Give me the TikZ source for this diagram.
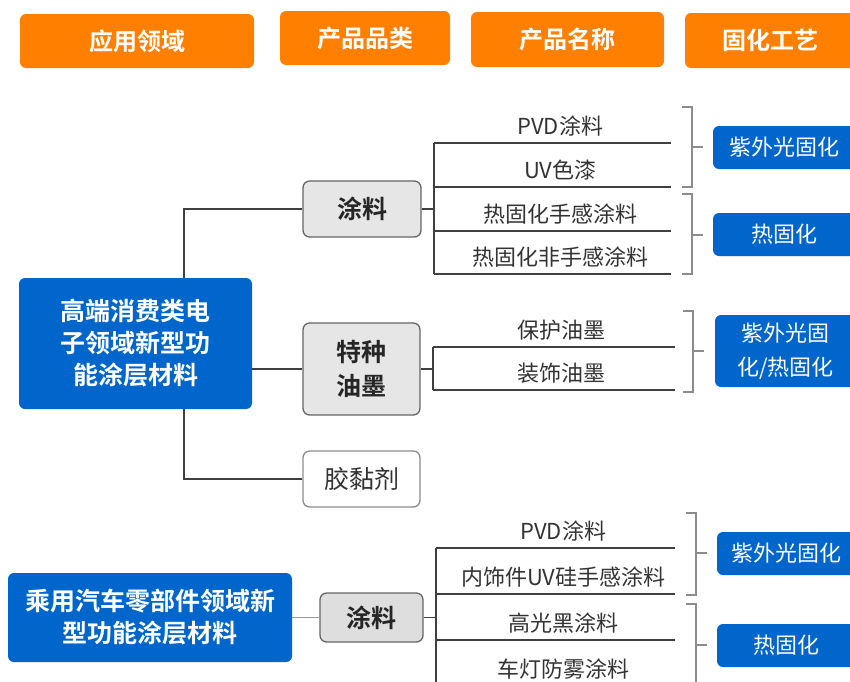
\documentclass[tikz,border=0pt]{standalone}
\usepackage{fontspec}
\setmainfont{Noto Sans CJK SC}[BoldFont={Noto Sans CJK SC Bold}]
\definecolor{orangeC}{HTML}{FF8000}
\definecolor{blueC}{HTML}{0066CC}
\definecolor{grayfill}{HTML}{E6E6E6}
\definecolor{grayfillb}{HTML}{DEDEDE}
\definecolor{linec}{HTML}{404040}
\definecolor{brkc}{HTML}{8C8C8C}
\definecolor{txtc}{HTML}{333333}
\begin{document}
\begin{tikzpicture}[x=0.75pt,y=-0.75pt,
  hdr/.style={fill=orangeC, rounded corners=4.5pt, text=white, inner sep=0pt,
    font=\bfseries\fontsize{18}{22}\selectfont},
  mainbox/.style={fill=blueC, rounded corners=4.5pt, text=white, inner sep=0pt, align=center,
    font=\bfseries\fontsize{18.75}{24}\selectfont},
  catbox/.style={fill=grayfill, draw=linec!80, line width=1pt, rounded corners=5pt, inner sep=0pt, align=center,
    text=black!85, font=\bfseries\fontsize{18.75}{25.5}\selectfont},
  plainbox/.style={fill=white, draw=black!45, line width=1pt, rounded corners=5pt, inner sep=0pt,
    text=txtc, font=\fontsize{18.75}{24}\selectfont},
  cure/.style={fill=blueC, rounded corners=4.5pt, text=white, inner sep=0pt, align=center,
    font=\fontsize{16.5}{25.5}\selectfont},
  item/.style={anchor=south west, inner sep=0pt, minimum height=24.75pt, text=txtc,
    font=\fontsize{16.5}{20}\selectfont, execute at begin node={\hspace*{12pt}}},
  conn/.style={draw=linec, line width=1.1pt},
  lconn/.style={draw=black!40, line width=1.1pt},
  uline/.style={draw=linec, line width=1pt},
  brk/.style={draw=brkc, line width=1.1pt}
]
\useasboundingbox (0,0) rectangle (850,682);

% headers
\node[hdr, minimum width=175.5pt, minimum height=40.5pt] (h1) at (137,41) {应用领域};
\node[hdr, minimum width=127.5pt, minimum height=40.5pt] (h2) at (365,38) {产品品类};
\node[hdr, minimum width=144.75pt, minimum height=41.25pt] (h3) at (567.5,39.5) {产品名称};
\node[hdr, minimum width=128.25pt, minimum height=41.25pt] (h4) at (770.5,40.5) {固化工艺};

% main nodes
\node[mainbox, minimum width=174.75pt, minimum height=98.25pt] (m1) at (135.5,343.5) {高端消费类电\\子领域新型功\\能涂层材料};
\node[mainbox, minimum width=213pt, minimum height=66.75pt] (m2) at (150,617.5) {乘用汽车零部件领域新\\型功能涂层材料};

% categories
\node[catbox, minimum width=88.5pt, minimum height=42pt] (t1) at (362,209) {涂料};
\node[catbox, minimum width=87.75pt, minimum height=69pt] (t2) at (361.5,369) {特种\\油墨};
\node[plainbox, minimum width=87.75pt, minimum height=42pt] (t3) at (361.5,479) {胶黏剂};
\node[catbox, fill=grayfillb, minimum width=77.25pt, minimum height=36.75pt] (t4) at (371.5,617.5) {涂料};

% trunk
\coordinate (tr) at (184,343.5);
\draw[conn] (t1.west) -| (tr |- m1.north);
\draw[conn] (t3.west) -| (tr |- m1.south);
\draw[conn] (t2.west) -- (t2.west -| m1.east);
\draw[lconn] (m2.east) -- (t4.west);

% group 1 items
\node[item, minimum width=177pt] (a1) at (434,143) {PVD涂料};
\node[item, minimum width=177pt] (a2) at (434,187) {UV色漆};
\node[item, minimum width=177pt] (a3) at (434,231) {热固化手感涂料};
\node[item, minimum width=177pt] (a4) at (434,274) {热固化非手感涂料};
\foreach \n in {a1,a2,a3,a4} \draw[uline] (\n.south west) -- (\n.south east);
\draw[uline] (a1.south west) -- (a4.south west);
\draw[conn] (t1.east) -- (t1.east -| a1.south west);

% group 2 items
\node[item, minimum width=180.75pt] (b1) at (433,347) {保护油墨};
\node[item, minimum width=180.75pt] (b2) at (433,390) {装饰油墨};
\foreach \n in {b1,b2} \draw[uline] (\n.south west) -- (\n.south east);
\draw[uline] (b1.south west) -- (b2.south west);
\draw[conn] (t2.east) -- (t2.east -| b1.south west);

% group 3 items
\node[item, minimum width=178.5pt] (d1) at (436,548) {PVD涂料};
\node[item, minimum width=178.5pt] (d2) at (436,594) {内饰件UV硅手感涂料};
\node[item, minimum width=178.5pt] (d3) at (436,640) {高光黑涂料};
\node[item, minimum width=178.5pt] (d4) at (436,686) {车灯防雾涂料};
\foreach \n in {d1,d2,d3} \draw[uline] (\n.south west) -- (\n.south east);
\draw[uline] (d1.south west) -- (436,700);
\draw[conn] (t4.east) -- (t4.east -| d1.south west);

% brackets
\draw[brk] (682,107) -| (692,187) -- (682,187);
\draw[brk] (692,147) -- (703,147);
\draw[brk] (682,194) -| (692,274) -- (682,274);
\draw[brk] (692,235) -- (703,235);
\draw[brk] (683,311) -| (693,392) -- (683,392);
\draw[brk] (693,351) -- (704,351);
\draw[brk] (686,513) -| (696,595) -- (686,595);
\draw[brk] (696,553) -- (707,553);
\draw[brk] (686,604) -| (696,700);
\draw[brk] (696,645) -- (707,645);

% cure boxes
\node[cure, minimum width=107.25pt, minimum height=32.25pt] (c1) at (784.5,147.5) {紫外光固化};
\node[cure, minimum width=107.25pt, minimum height=32.25pt] (c2) at (784.5,234.5) {热固化};
\node[cure, minimum width=105.75pt, minimum height=54pt] (c3) at (785.5,351) {紫外光固\\化/热固化};
\node[cure, minimum width=104.25pt, minimum height=32.25pt] (c4) at (786.5,553.5) {紫外光固化};
\node[cure, minimum width=104.25pt, minimum height=32.25pt] (c5) at (786.5,645.5) {热固化};
\end{tikzpicture}
\end{document}
